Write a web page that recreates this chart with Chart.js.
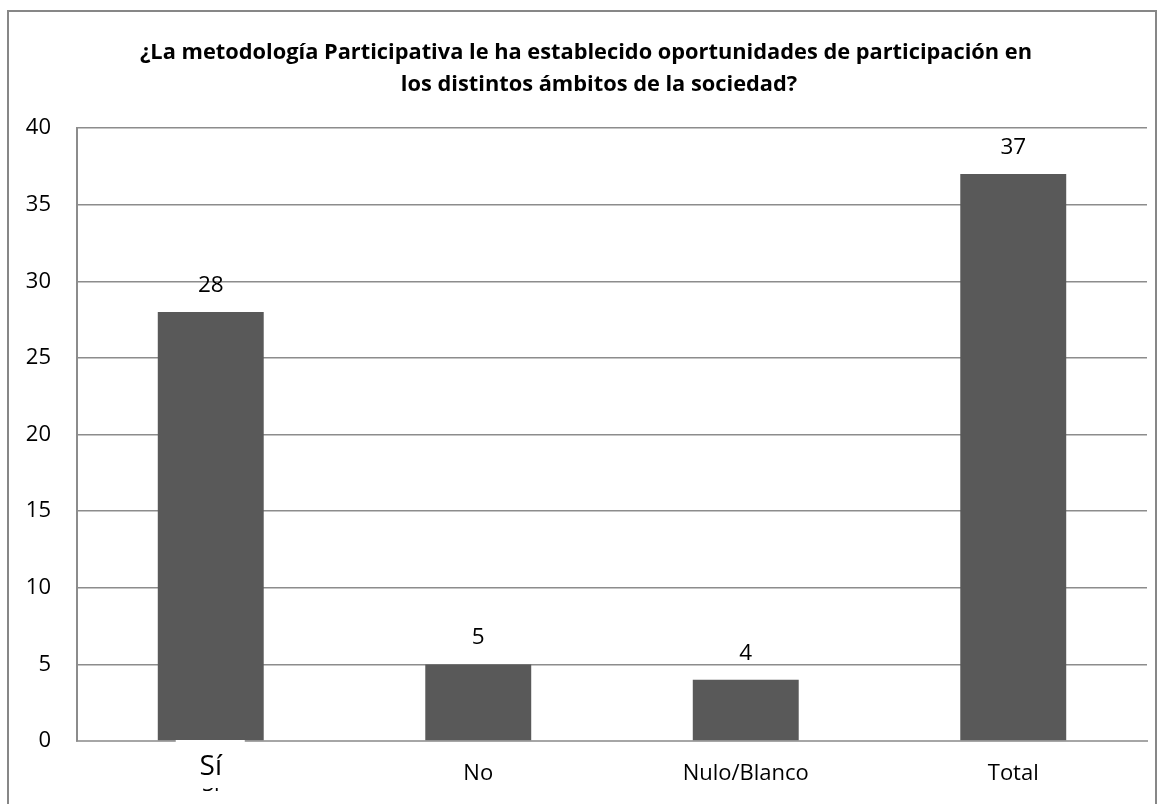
<!DOCTYPE html>
<html>
<head>
<meta charset="utf-8">
<script src="https://cdn.jsdelivr.net/npm/chart.js@4.4.1/dist/chart.umd.min.js"></script>
<style>
  html, body { margin: 0; padding: 0; background: #fff; overflow: hidden; }
  #frame { position: absolute; left: 7px; top: 10px; width: 1146px; height: 820px; border: 2px solid #878787; }
  #wrap { position: absolute; left: 0; top: 0; width: 1146px; height: 794px; }
</style>
</head>
<body>
<div id="frame"><div id="wrap"><canvas id="chart"></canvas></div></div>
<script>
// chart data
const titleLines = ['¿La metodología Participativa le ha establecido oportunidades de participación en', 'los distintos ámbitos de la sociedad?'];
const categories = ['Sí', 'No', 'Nulo/Blanco', 'Total'];
const counts = [28, 5, 4, 37];

const FONT = '"Open Sans", "Noto Sans", sans-serif';

const titlePlugin = {
  id: 'titleText',
  afterDraw(chart) {
    const c = chart.ctx;
    c.save();
    c.fillStyle = '#000';
    c.font = 'bold 21.8px ' + FONT;
    c.textAlign = 'center';
    c.textBaseline = 'middle';
    c.fillText(titleLines[0], 577, 41);
    c.fillText(titleLines[1], 590, 73);
    c.restore();
  }
};

const valueLabels = {
  id: 'valueLabels',
  afterDatasetsDraw(chart) {
    const c = chart.ctx;
    const meta = chart.getDatasetMeta(0);
    c.save();
    c.fillStyle = '#000';
    c.font = '22.5px ' + FONT;
    c.textAlign = 'center';
    c.textBaseline = 'alphabetic';
    meta.data.forEach((bar, i) => c.fillText(String(counts[i]), bar.x, bar.y - 20));
    c.restore();
  }
};

// the odd overlapping "Sí" label under the first bar
const firstLabel = {
  id: 'firstLabel',
  afterDraw(chart) {
    const c = chart.ctx;
    const x = chart.scales.x.getPixelForValue(0);
    const base = chart.chartArea.bottom;
    c.save();
    c.fillStyle = '#000';
    c.textAlign = 'center';
    c.textBaseline = 'middle';
    c.font = '22px ' + FONT;
    c.fillText(categories[0], x, base + 44);
    c.fillStyle = '#fff';
    c.fillRect(x - 35, base - 1, 69, 48);
    c.fillStyle = '#000';
    c.font = '28px ' + FONT;
    c.fillText(categories[0], x, base + 26);
    c.restore();
  }
};

new Chart(document.getElementById('chart'), {
  type: 'bar',
  data: {
    labels: categories,
    datasets: [{ data: counts, backgroundColor: '#595959', borderWidth: 0, barPercentage: 0.66, categoryPercentage: 0.6 }]
  },
  options: {
    responsive: true,
    maintainAspectRatio: false,
    animation: false,
    layout: { padding: { top: 116, right: 8, left: 0, bottom: 0 } },
    plugins: { legend: { display: false }, tooltip: { enabled: false }, title: { display: false } },
    scales: {
      x: {
        grid: { display: false, drawTicks: false },
        border: { display: true, color: '#a6a6a6', width: 2 },
        ticks: { color: (ctx) => ctx.index === 0 ? 'rgba(0,0,0,0)' : '#000', font: { family: FONT, size: 22 }, padding: 20 },
        afterFit(scale) { scale.height = 65; }
      },
      y: {
        min: 0, max: 40,
        grid: { color: '#8c8c8c', lineWidth: 1.5, drawTicks: false },
        border: { display: true, color: '#8c8c8c', width: 2 },
        ticks: { stepSize: 5, color: '#000', font: { family: FONT, size: 22 }, padding: 26 },
        afterFit(scale) { scale.width = 68; }
      }
    }
  },
  plugins: [titlePlugin, valueLabels, firstLabel]
});
</script>
</body>
</html>
